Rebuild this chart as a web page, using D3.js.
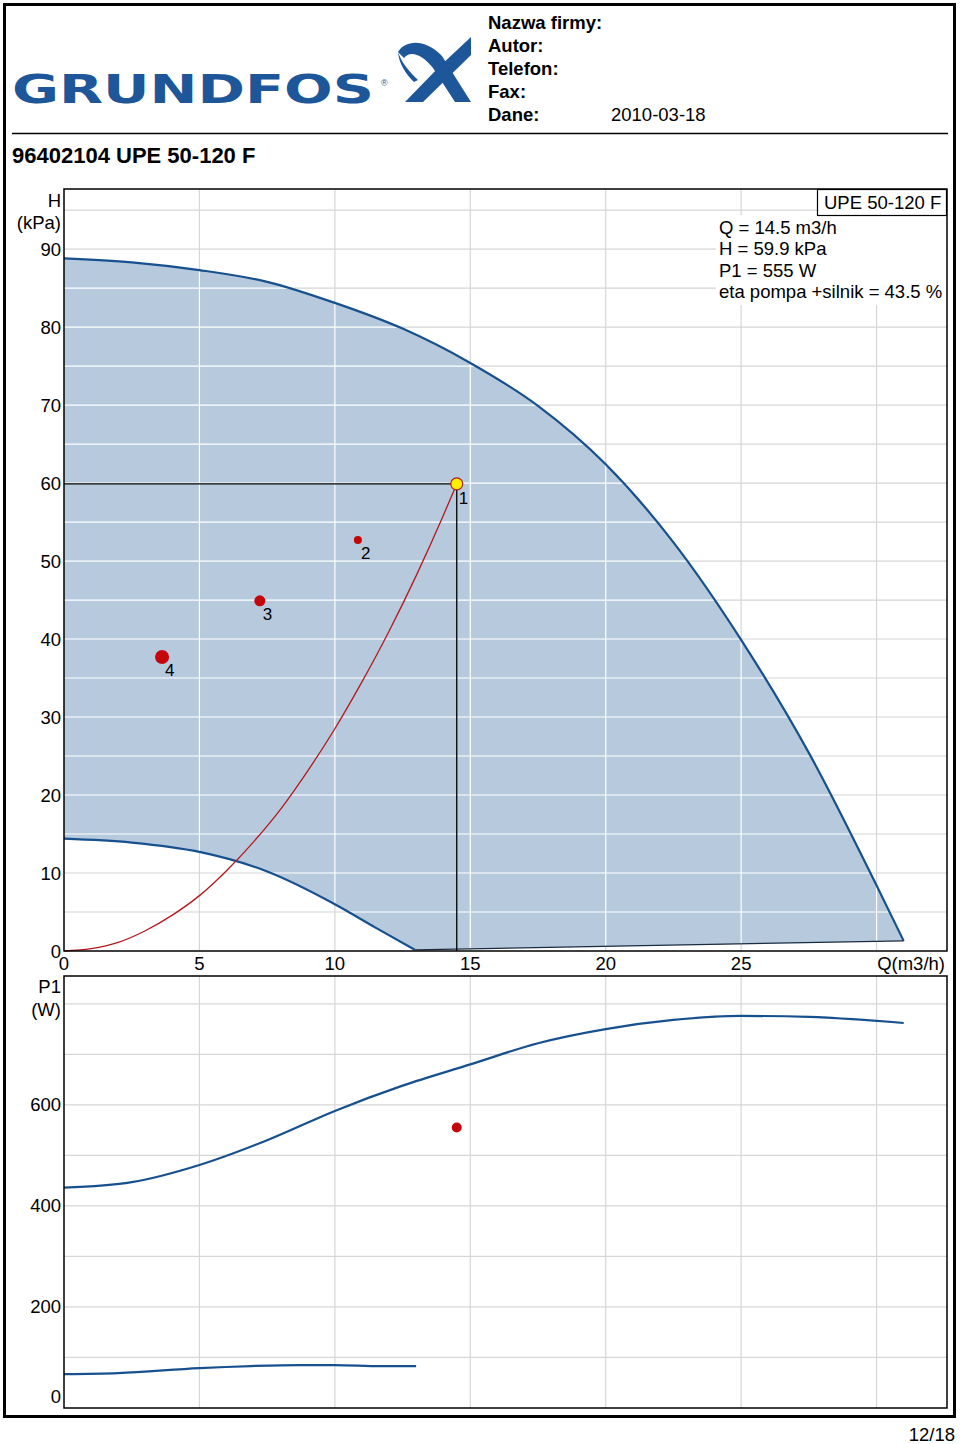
<!DOCTYPE html>
<html>
<head>
<meta charset="utf-8">
<script src="https://cdn.jsdelivr.net/npm/d3@7"></script>
<style>
  body { margin: 0; background: #fff; }
  svg { display: block; font-family: "Liberation Sans", Arial, sans-serif; }
</style>
</head>
<body>
<svg id="chart" width="960" height="1444"></svg>
<script>
// header texts
const headerLabels = ["Nazwa firmy:", "Autor:", "Telefon:", "Fax:", "Dane:"];
const headerDate = "2010-03-18";
const pumpTitle = "96402104 UPE 50-120 F";
const pumpName = "UPE 50-120 F";
const infoLines = ["Q = 14.5 m3/h", "H = 59.9 kPa", "P1 = 555 W", "eta pompa +silnik = 43.5 %"];

// axis ticks
const qTicks = [0, 5, 10, 15, 20, 25];
const hTicks = [0, 10, 20, 30, 40, 50, 60, 70, 80, 90];
const pTicks = [0, 200, 400, 600];

// H(Q) max speed curve [Q, H]
const hMax = [[0, 88.8], [2.5, 88.3], [5, 87.3], [7.5, 85.8], [10, 83.1], [12.5, 79.8], [15, 75.4],
  [17.5, 69.9], [20, 62.4], [22.5, 52.4], [25, 39.9], [27.5, 25.4], [30, 8.4], [31.0, 1.3]];
// H(Q) min speed curve
const hMin = [[0, 14.4], [2.5, 13.9], [5, 12.7], [7.5, 10.2], [10, 6.0], [11.5, 3.0], [12.95, 0.15]];
// system curve through duty point
const sysCurve = [[0, 0], [1, 0.3], [2, 1.1], [3, 2.6], [4, 4.6], [5, 7.1], [6, 10.3], [7, 14.0],
  [8, 18.2], [9, 23.1], [10, 28.5], [11, 34.5], [12, 41.0], [13, 48.1], [14, 55.8], [14.5, 59.9]];
// marked points [Q, H, label, radius]
const duty = { q: 14.5, h: 59.9, p: 555 };
const markers = [[10.85, 52.7, "2", 4], [7.23, 44.9, "3", 5.5], [3.62, 37.7, "4", 7]];
// P1(Q) curves
const pMax = [[0, 436], [2.5, 447], [5, 481], [7.5, 530], [10, 588], [12.5, 638], [15, 680],
  [17.5, 722], [20, 750], [22.5, 768], [25, 776], [27.5, 774], [31.0, 762]];
const pMin = [[0, 67], [2, 69], [5, 79], [6.9, 83], [8.7, 85], [10, 85], [11.7, 83], [13.0, 83]];

const svg = d3.select("#chart");
const blue = "#17508e", fillBlue = "#b7cadd", red = "#b3191c", gridGray = "#d6d6d6";

// page frame
svg.append("rect").attr("x", 4.5).attr("y", 4.5).attr("width", 950).attr("height", 1412)
  .attr("fill", "none").attr("stroke", "#000").attr("stroke-width", 3);

// logo
svg.append("text").attr("x", 12).attr("y", 103).attr("textLength", 362).attr("lengthAdjust", "spacingAndGlyphs")
  .attr("font-family", "DejaVu Sans").attr("font-weight", "bold").attr("font-size", 39)
  .attr("fill", "#1d5799").text("GRUNDFOS");
svg.append("text").attr("x", 381).attr("y", 86).attr("font-size", 9).attr("fill", "#1d5799").text("®");
const logo = svg.append("g").attr("fill", "#1d5799");
logo.append("path").attr("d", "M471,37 L471,55 L423,102 L405,102 L440,66 Z");
logo.append("path").attr("d", "M398,52 C405,40 425,38 442,56 L471,102 L455,102 L433,68 C422,54 410,50 404,58 Z");
logo.append("path").attr("d", "M398,52 C402,64 410,72 418,80 L414,82 C406,74 399,64 398,52 Z");

// header info
svg.selectAll(".hdr").data(headerLabels).enter().append("text")
  .attr("x", 488).attr("y", (d, i) => 29 + i * 23)
  .attr("font-size", 18.5).attr("font-weight", "bold").text(d => d);
svg.append("text").attr("x", 611).attr("y", 121).attr("font-size", 18.5).text(headerDate);
svg.append("line").attr("x1", 12).attr("x2", 948).attr("y1", 133.5).attr("y2", 133.5)
  .attr("stroke", "#000").attr("stroke-width", 1.3);
svg.append("text").attr("x", 12).attr("y", 163).attr("font-size", 22).attr("font-weight", "bold").text(pumpTitle);

// scales
const x = d3.scaleLinear().domain([0, 32.6]).range([64, 947]);
const yH = d3.scaleLinear().domain([0, 97.7]).range([951, 189]);
const yP = d3.scaleLinear().domain([0, 855]).range([1408, 976]);

const lineH = d3.line().x(d => x(d[0])).y(d => yH(d[1])).curve(d3.curveMonotoneX);
const lineP = d3.line().x(d => x(d[0])).y(d => yP(d[1])).curve(d3.curveMonotoneX);

// ---- H chart ----
const hChart = svg.append("g");
function grid(g, yScale, yVals, color) {
  g.selectAll(null).data(d3.range(5, 32, 5)).enter().append("line")
    .attr("x1", d => x(d)).attr("x2", d => x(d)).attr("y1", yScale.range()[1]).attr("y2", yScale.range()[0])
    .attr("stroke", color).attr("stroke-width", 1.2);
  g.selectAll(null).data(yVals).enter().append("line")
    .attr("x1", 64).attr("x2", 947).attr("y1", d => yScale(d)).attr("y2", d => yScale(d))
    .attr("stroke", color).attr("stroke-width", 1.2);
}
grid(hChart, yH, d3.range(5, 97, 5), gridGray);

const areaPath = lineH(hMax) + "L" + lineH(hMin.slice().reverse()).slice(1) + "Z";
svg.append("clipPath").attr("id", "areaClip").append("path").attr("d", areaPath);
hChart.append("path").attr("d", areaPath).attr("fill", fillBlue);
grid(hChart.append("g").attr("clip-path", "url(#areaClip)"), yH, d3.range(5, 97, 5), "#fff");

hChart.append("path").attr("d", lineH(hMax)).attr("fill", "none").attr("stroke", blue).attr("stroke-width", 2.2);
hChart.append("path").attr("d", lineH(hMin)).attr("fill", "none").attr("stroke", blue).attr("stroke-width", 2.2);
hChart.append("line").attr("x1", x(hMin[hMin.length - 1][0])).attr("y1", yH(hMin[hMin.length - 1][1]))
  .attr("x2", x(hMax[hMax.length - 1][0])).attr("y2", yH(hMax[hMax.length - 1][1]))
  .attr("stroke", "#1a2a40").attr("stroke-width", 1.3);

// system curve and duty point
hChart.append("path").attr("d", lineH(sysCurve)).attr("fill", "none").attr("stroke", red).attr("stroke-width", 1.3);
hChart.append("polyline")
  .attr("points", [[x(0), yH(duty.h)], [x(duty.q), yH(duty.h)], [x(duty.q), yH(0)]].join(" "))
  .attr("fill", "none").attr("stroke", "#000").attr("stroke-width", 1.3);
hChart.append("circle").attr("cx", x(duty.q)).attr("cy", yH(duty.h)).attr("r", 6)
  .attr("fill", "#ffee00").attr("stroke", "#b3191c").attr("stroke-width", 1.2);
hChart.append("text").attr("x", x(duty.q) + 2).attr("y", yH(duty.h) + 20).attr("font-size", 17).text("1");
markers.forEach(m => {
  hChart.append("circle").attr("cx", x(m[0])).attr("cy", yH(m[1])).attr("r", m[3]).attr("fill", "#c4060b");
  hChart.append("text").attr("x", x(m[0]) + 3).attr("y", yH(m[1]) + 19).attr("font-size", 17).text(m[2]);
});

// info box
hChart.append("rect").attr("x", 716).attr("y", 215).attr("width", 230).attr("height", 90).attr("fill", "#fff");
hChart.append("rect").attr("x", 817.5).attr("y", 189.5).attr("width", 129).attr("height", 26)
  .attr("fill", "#fff").attr("stroke", "#000").attr("stroke-width", 1.2);
hChart.append("text").attr("x", 824).attr("y", 209).attr("font-size", 18.5).text(pumpName);
hChart.selectAll(".info").data(infoLines).enter().append("text")
  .attr("x", 719).attr("y", (d, i) => 234 + i * 21.3).attr("font-size", 18.5).text(d => d);

hChart.append("rect").attr("x", 64).attr("y", 189).attr("width", 883).attr("height", 762)
  .attr("fill", "none").attr("stroke", "#000").attr("stroke-width", 1.5);

// H axis labels
hChart.selectAll(".hl").data(hTicks).enter().append("text")
  .attr("x", 61).attr("y", d => yH(d) + 6.5).attr("text-anchor", "end").attr("font-size", 18.5).text(d => d);
hChart.append("text").attr("x", 61).attr("y", 207).attr("text-anchor", "end").attr("font-size", 18.5).text("H");
hChart.append("text").attr("x", 61).attr("y", 229).attr("text-anchor", "end").attr("font-size", 18.5).text("(kPa)");
hChart.selectAll(".ql").data(qTicks).enter().append("text")
  .attr("x", d => x(d)).attr("y", 970).attr("text-anchor", "middle").attr("font-size", 18.5).text(d => d);
hChart.append("text").attr("x", 945).attr("y", 970).attr("text-anchor", "end").attr("font-size", 18.5).text("Q(m3/h)");

// ---- P1 chart ----
const pChart = svg.append("g");
grid(pChart, yP, d3.range(100, 855, 100), gridGray);
pChart.append("path").attr("d", lineP(pMax)).attr("fill", "none").attr("stroke", blue).attr("stroke-width", 2.2);
pChart.append("path").attr("d", lineP(pMin)).attr("fill", "none").attr("stroke", blue).attr("stroke-width", 2.2);
pChart.append("circle").attr("cx", x(duty.q)).attr("cy", yP(duty.p)).attr("r", 5).attr("fill", "#c4060b");
pChart.append("rect").attr("x", 64).attr("y", 976).attr("width", 883).attr("height", 432)
  .attr("fill", "none").attr("stroke", "#000").attr("stroke-width", 1.5);
pChart.selectAll(".pl").data(pTicks).enter().append("text")
  .attr("x", 61).attr("y", d => (d === 0 ? yP(d) - 5 : yP(d) + 6.5)).attr("text-anchor", "end")
  .attr("font-size", 18.5).text(d => d);
pChart.append("text").attr("x", 61).attr("y", 993).attr("text-anchor", "end").attr("font-size", 18.5).text("P1");
pChart.append("text").attr("x", 61).attr("y", 1016).attr("text-anchor", "end").attr("font-size", 18.5).text("(W)");

svg.append("text").attr("x", 955).attr("y", 1441).attr("text-anchor", "end").attr("font-size", 18.5).text("12/18");
</script>
</body>
</html>
